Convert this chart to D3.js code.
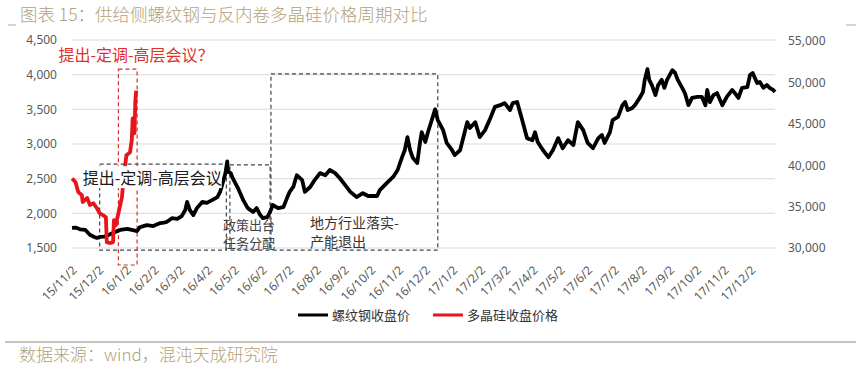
<!DOCTYPE html>
<html>
<head>
<meta charset="utf-8">
<script src="https://cdn.jsdelivr.net/npm/d3@7"></script>
<style>
body { margin: 0; background: #fff; }
text { font-family: "Noto Sans CJK SC", "Noto Sans", sans-serif; }
</style>
</head>
<body>
<svg id="chart" width="861" height="368"></svg>
<script>
// rebar close (left axis)
const rebarDates = [
    "2015-11-02","2015-11-06","2015-11-11","2015-11-17","2015-11-22","2015-11-27","2015-11-30","2015-12-03",
    "2015-12-08","2015-12-11","2015-12-15","2015-12-18","2015-12-22","2015-12-26","2015-12-30","2016-01-03",
    "2016-01-08","2016-01-14","2016-01-17","2016-01-22","2016-01-25","2016-02-01","2016-02-05","2016-02-09",
    "2016-02-13","2016-02-16","2016-02-22","2016-02-28","2016-03-04","2016-03-08","2016-03-10","2016-03-13",
    "2016-03-17","2016-03-21","2016-03-27","2016-04-01","2016-04-07","2016-04-13","2016-04-16","2016-04-19",
    "2016-04-22","2016-04-24","2016-04-25","2016-04-28","2016-04-30","2016-05-06","2016-05-12","2016-05-17",
    "2016-05-23","2016-05-27","2016-05-31","2016-06-03","2016-06-08","2016-06-11","2016-06-14","2016-06-20",
    "2016-06-26","2016-06-30","2016-07-03","2016-07-07","2016-07-11","2016-07-17","2016-07-20","2016-07-26",
    "2016-07-31","2016-08-06","2016-08-12","2016-08-17","2016-08-23","2016-08-28","2016-09-03","2016-09-09",
    "2016-09-16","2016-09-23","2016-09-29","2016-10-09","2016-10-12","2016-10-20","2016-10-27","2016-11-01",
    "2016-11-06","2016-11-09","2016-11-12","2016-11-15","2016-11-18","2016-11-23","2016-11-26","2016-11-28",
    "2016-12-02","2016-12-05","2016-12-10","2016-12-13","2016-12-16","2016-12-22","2016-12-26","2017-01-01",
    "2017-01-04","2017-01-10","2017-01-18","2017-01-21","2017-01-27","2017-02-01","2017-02-07","2017-02-13",
    "2017-02-18","2017-02-24","2017-03-01","2017-03-07","2017-03-10","2017-03-15","2017-03-20","2017-03-26",
    "2017-04-01","2017-04-04","2017-04-07","2017-04-13","2017-04-19","2017-04-24","2017-04-30","2017-05-05",
    "2017-05-11","2017-05-17","2017-05-22","2017-05-28","2017-06-02","2017-06-08","2017-06-14","2017-06-18",
    "2017-06-21","2017-06-27","2017-06-30","2017-07-06","2017-07-11","2017-07-14","2017-07-17","2017-07-22",
    "2017-07-25","2017-07-31","2017-08-03","2017-08-05","2017-08-08","2017-08-10","2017-08-13","2017-08-17",
    "2017-08-20","2017-08-24","2017-08-27","2017-08-30","2017-09-05","2017-09-08","2017-09-11","2017-09-16",
    "2017-09-19","2017-09-23","2017-09-27","2017-10-03","2017-10-08","2017-10-12","2017-10-14","2017-10-17",
    "2017-10-21","2017-10-25","2017-10-31","2017-11-05","2017-11-11","2017-11-14","2017-11-18","2017-11-22",
    "2017-11-28","2017-12-01","2017-12-04","2017-12-09","2017-12-12","2017-12-16","2017-12-20","2017-12-23",
    "2017-12-27","2017-12-29"
];
const rebarClose = [
    1790,1795,1770,1760,1690,1660,1645,1660,
    1665,1675,1700,1715,1740,1760,1770,1775,
    1760,1745,1800,1820,1830,1815,1840,1860,
    1865,1875,1930,1920,1960,2050,2165,2050,
    1975,2075,2165,2150,2190,2235,2310,2440,
    2580,2750,2600,2580,2510,2365,2190,2075,
    2020,2075,1975,1930,1945,2020,2120,2075,
    2090,2220,2310,2380,2550,2480,2310,2380,
    2480,2580,2550,2625,2580,2510,2410,2310,
    2235,2290,2250,2250,2335,2440,2525,2625,
    2810,2910,3100,2910,2800,2725,3015,3170,
    3030,3170,3375,3500,3345,3200,3015,2910,
    2840,2910,3315,3230,3315,3100,3200,3375,
    3535,3560,3590,3490,3590,3605,3375,3085,
    3055,3170,3030,2910,2810,2910,3085,2940,
    3055,2985,3315,3200,3015,2940,3085,3130,
    3015,3170,3345,3390,3560,3605,3490,3520,
    3560,3680,3750,3925,4080,3925,3850,3705,
    3850,3925,3810,3925,4065,4025,3925,3810,
    3735,3560,3665,3680,3680,3560,3780,3605,
    3705,3735,3560,3680,3780,3735,3665,3810,
    3820,3995,4025,3880,3895,3810,3850,3810,
    3780,3750
];

// polysilicon close (right axis), aligned to the start of the rebar cycle
const polyDates = [
    "2015-11-02","2015-11-06","2015-11-09","2015-11-13","2015-11-14","2015-11-19","2015-11-22","2015-11-26",
    "2015-11-30","2015-12-03","2015-12-07","2015-12-10","2015-12-11","2015-12-15","2015-12-18","2015-12-19",
    "2015-12-21","2015-12-24","2015-12-28","2015-12-30","2016-01-02","2016-01-06","2016-01-08","2016-01-09",
    "2016-01-10","2016-01-11","2016-01-12","2016-01-13"
];
const polyClose = [
    38400,37950,36750,36400,35550,36050,35200,35400,
    34800,34200,33950,33700,30700,30600,30700,33350,
    32750,34200,36150,38550,41200,41550,43000,45650,
    45700,43850,47800,49000
];

const leftTicks = [1500, 2000, 2500, 3000, 3500, 4000, 4500];
const rightTicks = [30000, 35000, 40000, 45000, 50000, 55000];
const monthTicks = [
    "2015-11-02","2015-12-02","2016-01-02","2016-02-02","2016-03-02","2016-04-02","2016-05-02",
    "2016-06-02","2016-07-02","2016-08-02","2016-09-02","2016-10-02","2016-11-02","2016-12-02",
    "2017-01-02","2017-02-02","2017-03-02","2017-04-02","2017-05-02","2017-06-02","2017-07-02",
    "2017-08-02","2017-09-02","2017-10-02","2017-11-02","2017-12-02"
];
const seriesNames = ["螺纹钢收盘价", "多晶硅收盘价格"];

// reform phases of the rebar cycle (dates / left-axis values)
const phaseLabels = [["提出-定调-高层会议"], ["政策出台", "任务分配"], ["地方行业落实-", "产能退出"]];
const phaseFrom = ["2015-12-03", "2016-04-27", "2016-06-12"];
const phaseTo = ["2016-04-23", "2016-06-11", "2016-12-16"];
const phaseTop = [2710, 2700, 4010];
const phaseBottom = [1470, 1470, 1470];
// the matching stage of the polysilicon cycle
const polyPhase = { label: "提出-定调-高层会议？", from: "2015-12-24", to: "2016-01-14", top: 4080, bottom: 1255 };

const titleText = "图表 15：供给侧螺纹钢与反内卷多晶硅价格周期对比";
const sourceText = "数据来源：wind，混沌天成研究院";

const parse = d3.timeParse("%Y-%m-%d");
const svg = d3.select("#chart");

const plotL = 72, plotR = 775, plotT = 40, plotB = 248;

const x = d3.scaleTime()
    .domain([parse("2015-11-02"), parse("2017-12-29")])
    .range([plotL, plotR]);
const yL = d3.scaleLinear().domain([1500, 4500]).range([plotB, plotT]);
const yR = d3.scaleLinear().domain([30000, 55000]).range([plotB, plotT + 1]);

// title + footer
svg.append("text")
    .attr("x", 20).attr("y", 21)
    .attr("fill", "#b3a17a")
    .style("font-size", "17.5px")
    .style("font-weight", 300)
    .text(titleText);
svg.append("line").attr("x1", 8).attr("x2", 16).attr("y1", 25).attr("y2", 25).attr("stroke", "#aaa");
svg.append("line").attr("x1", 846).attr("x2", 856).attr("y1", 25).attr("y2", 25).attr("stroke", "#aaa");
svg.append("line")
    .attr("x1", 5).attr("x2", 856).attr("y1", 342).attr("y2", 342)
    .attr("stroke", "#8e8c7c").attr("stroke-width", 1.2);
svg.append("text")
    .attr("x", 19).attr("y", 361)
    .attr("fill", "#b3a17a")
    .style("font-size", "17px")
    .style("font-weight", 300)
    .text(sourceText);

// gridlines
svg.append("g")
    .selectAll("line")
    .data(leftTicks)
    .enter().append("line")
    .attr("x1", plotL).attr("x2", plotR)
    .attr("y1", d => yL(d)).attr("y2", d => yL(d))
    .attr("stroke", "#d9d9d9").attr("stroke-width", 1);

// axes
const axisL = svg.append("g")
    .attr("transform", `translate(${plotL},0)`)
    .call(d3.axisLeft(yL).tickValues(leftTicks).tickSize(0).tickPadding(15).tickFormat(d3.format(",")));
const axisR = svg.append("g")
    .attr("transform", `translate(${plotR},0)`)
    .call(d3.axisRight(yR).tickValues(rightTicks).tickSize(0).tickPadding(13).tickFormat(d3.format(",")));
const axisB = svg.append("g")
    .attr("transform", `translate(0,${plotB})`)
    .call(d3.axisBottom(x).tickValues(monthTicks.map(parse)).tickSize(0).tickFormat(d3.timeFormat("%y/%-m/%-d")));

[axisL, axisR, axisB].forEach(a => {
    a.select(".domain").remove();
    a.selectAll("text")
        .style("font-family", "'Noto Sans', sans-serif")
        .style("font-size", "12px")
        .attr("fill", "#595959");
});
axisB.selectAll("text")
    .attr("y", 0).attr("dy", 0)
    .attr("text-anchor", "end")
    .attr("transform", "translate(5,23) rotate(-45)");

// phase boxes
const phaseG = svg.append("g");
phaseFrom.forEach((f, i) => {
    const x0 = x(parse(f)), x1 = x(parse(phaseTo[i]));
    const y0 = yL(phaseTop[i]), y1 = yL(phaseBottom[i]);
    phaseG.append("rect")
        .attr("x", x0).attr("y", y0)
        .attr("width", x1 - x0).attr("height", y1 - y0)
        .attr("fill", "none")
        .attr("stroke", "#404552").attr("stroke-width", 1.2)
        .attr("stroke-dasharray", "4,3");
});

svg.append("rect")
    .attr("x", x(parse(polyPhase.from)))
    .attr("y", yL(polyPhase.top))
    .attr("width", x(parse(polyPhase.to)) - x(parse(polyPhase.from)))
    .attr("height", yL(polyPhase.bottom) - yL(polyPhase.top))
    .attr("fill", "none")
    .attr("stroke", "#d9302c").attr("stroke-width", 1.2)
    .attr("stroke-dasharray", "4,3");

// lines
const rebar = rebarDates.map((d, i) => ({ date: parse(d), value: rebarClose[i] }));
const poly = polyDates.map((d, i) => ({ date: parse(d), value: polyClose[i] }));

svg.append("path")
    .datum(rebar)
    .attr("fill", "none")
    .attr("stroke", "#000")
    .attr("stroke-width", 3.8)
    .attr("stroke-linejoin", "round")
    .attr("d", d3.line().x(d => x(d.date)).y(d => yL(d.value)));

svg.append("path")
    .datum(poly)
    .attr("fill", "none")
    .attr("stroke", "#e8141b")
    .attr("stroke-width", 3.8)
    .attr("stroke-linejoin", "round")
    .attr("d", d3.line().x(d => x(d.date)).y(d => yR(d.value)));

// phase labels
const b0 = x(parse(phaseFrom[0]));
const lab0 = svg.append("text")
    .attr("x", b0 - 17).attr("y", yL(phaseTop[0]) + 20)
    .attr("fill", "#1a1a1a")
    .style("font-size", "16px")
    .text(phaseLabels[0][0]);
const bb = lab0.node().getBBox();
svg.insert("rect", () => lab0.node())
    .attr("x", bb.x - 2).attr("y", bb.y + 1)
    .attr("width", bb.width + 2).attr("height", bb.height - 2)
    .attr("fill", "#fff");

const b1 = x(parse(phaseFrom[1]));
phaseLabels[1].forEach((t, j) => {
    svg.append("text")
        .attr("x", b1 - 7).attr("y", 230 + j * 18)
        .attr("fill", "#444")
        .style("font-size", "13px")
        .text(t);
});

const b2 = x(parse(phaseFrom[2]));
phaseLabels[2].forEach((t, j) => {
    svg.append("text")
        .attr("x", b2 + 39).attr("y", 228 + j * 19)
        .attr("fill", "#333")
        .style("font-size", "14px")
        .text(t);
});

svg.append("text")
    .attr("x", x(parse(polyPhase.from)) - 60).attr("y", yL(polyPhase.top) - 8)
    .attr("fill", "#e0302a")
    .style("font-size", "16px")
    .text(polyPhase.label);

// legend
const legend = svg.append("g").attr("transform", "translate(298,315)");
const legendColors = ["#000", "#e8141b"];
const legendX = [0, 135];
seriesNames.forEach((name, i) => {
    const g = legend.append("g").attr("transform", `translate(${legendX[i]},0)`);
    g.append("line")
        .attr("x1", 0).attr("x2", 30)
        .attr("stroke", legendColors[i]).attr("stroke-width", 3);
    g.append("text")
        .attr("x", 34).attr("y", 4.5)
        .attr("fill", "#333")
        .style("font-size", "13px")
        .text(name);
});
</script>
</body>
</html>
